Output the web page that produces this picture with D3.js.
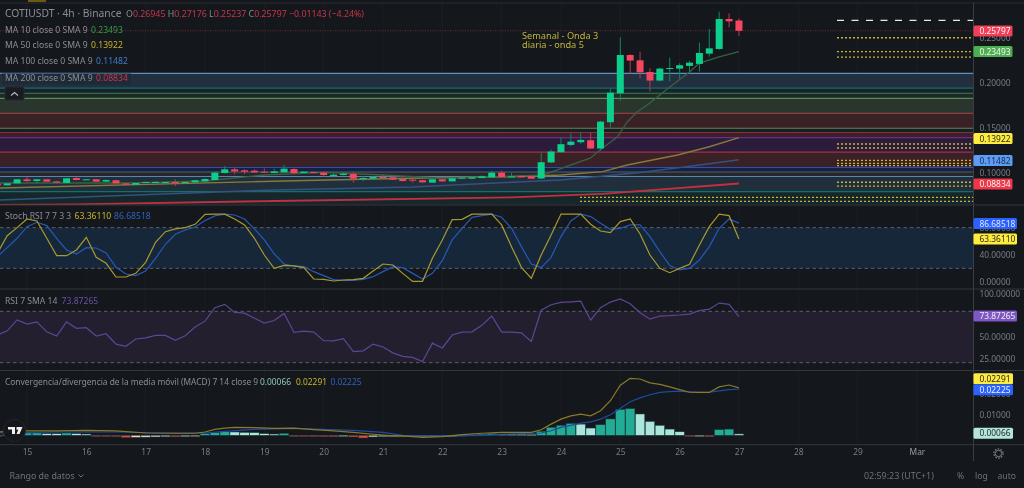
<!DOCTYPE html>
<html><head><meta charset="utf-8">
<style>html,body{margin:0;padding:0;background:#14171c;overflow:hidden}svg{display:block;filter:blur(.35px)}text{font-family:"Noto Sans",sans-serif}</style>
<script src="https://cdn.jsdelivr.net/npm/d3@7"></script></head><body><svg id="c" width="1024" height="488"></svg>
<script>
// candles: index 0 is the candle 3 bars before day 15 00:00; 6 bars per day
const opens=[.0881,.0863,.0885,.0930,.0911,.0930,.0907,.0889,.0944,.0922,.0930,.0904,.0919,.0885,.0870,.0893,.0893,.0893,.0900,.0889,.0896,.0907,.0922,.1000,.1041,.1030,.1026,.1015,.1000,.1007,.1044,.1000,.1011,.1004,.0967,.0978,.0989,.0937,.0937,.0956,.0952,.0933,.0926,.0919,.0893,.0930,.0907,.0941,.0937,.0944,.0952,.1004,.0952,.0967,.0963,.0939,.1117,.1231,.1312,.1342,.1364,.1272,.1564,.1886,.2311,.2252,.2123,.2027,.2160,.2160,.2190,.2212,.2326,.2378,.2711,.26945];
const highs=[.0885,.0887,.0935,.0959,.0933,.0933,.0911,.0945,.0952,.0933,.0933,.0930,.0922,.0889,.0891,.0904,.0911,.0904,.0930,.0904,.0922,.0941,.1011,.1078,.1063,.1041,.1041,.1052,.1048,.1092,.1052,.1018,.1015,.1015,.1004,.1011,.1011,.0967,.0963,.0981,.0956,.0952,.0952,.0926,.0933,.0935,.0945,.0955,.0956,.0974,.1026,.1026,.1000,.0978,.0978,.1227,.1261,.1394,.1442,.1453,.1453,.1579,.1938,.2508,.2318,.2348,.2163,.2171,.2282,.2219,.2245,.2448,.2600,.2792,.2774,.27176];
const lows=[.0860,.0860,.0883,.0900,.0885,.0902,.0891,.0889,.0920,.0920,.0902,.0902,.0885,.0868,.0868,.0891,.0891,.0891,.0856,.0887,.0896,.0907,.0919,.0996,.0985,.0989,.1004,.1004,.1000,.1004,.0989,.0996,.0996,.0959,.0963,.0974,.0893,.0904,.0933,.0941,.0922,.0904,.0893,.0893,.0893,.0900,.0905,.0935,.0933,.0941,.0948,.0944,.0948,.0948,.0933,.0930,.1110,.1225,.1294,.1324,.1268,.1250,.1505,.1801,.2108,.2049,.1908,.2020,.2019,.2049,.2126,.2126,.2293,.2370,.2619,.25237];
const closes=[.0863,.0885,.0930,.0911,.0930,.0904,.0893,.0941,.0922,.0930,.0904,.0922,.0885,.0870,.0889,.0900,.0900,.0900,.0893,.0900,.0919,.0933,.1004,.1041,.1018,.1015,.1007,.1004,.1018,.1048,.1000,.1015,.1000,.0978,.0981,.0993,.0937,.0944,.0956,.0944,.0926,.0911,.0919,.0896,.0930,.0907,.0941,.0948,.0952,.0963,.1004,.0956,.0963,.0952,.0937,.1120,.1239,.1320,.1349,.1368,.1272,.1571,.1893,.2311,.2249,.2119,.2027,.2160,.2167,.2197,.2226,.2334,.2385,.2711,.2685,.25797];
// moving averages, read at [candle offset from day 15 00:00, price]
const ma10Bars=[-3,10,18,24,30,36,42,48,52.2,57,58.2,59.7,60.7,61.7,63,65,67,68,70,72];
const ma10=[.0889,.0889,.0911,.0978,.1006,.0978,.0944,.0961,.0978,.1167,.1278,.1400,.1567,.1678,.1778,.1956,.2122,.2222,.2289,.23493];
const ma50Bars=[-3,27,40,49,54,58.2,60.7,65.8,69,72];
const ma50=[.0833,.0914,.0944,.0959,.0978,.1015,.1089,.1200,.1292,.13922];
const ma100Bars=[-3,25,39,49,54,61.8,66.7,72];
const ma100=[.0700,.0811,.0844,.0897,.0922,.1004,.1070,.11482];
const ma200Bars=[-3,5,25,49,58.2,72];
const ma200=[.0645,.0652,.0689,.0730,.0767,.08834];
const stochK=[42.2,68.2,80,92.8,89.9,64.3,38.7,38.7,47.1,65.8,36.3,27.4,7.2,7.2,12.6,28.9,58.4,74.1,78.1,80,84.9,99.7,100,100,92.8,84,64.3,39.7,20,24.4,23.5,21,4.3,3.8,1.3,2.8,3.3,5.3,16.1,26.4,24.9,12.6,.8,.8,34.8,61.8,91.8,92.3,100,100,100,84,52,21.5,5.3,39.7,69.2,100,100,100,85,75.1,72.6,88.9,92.8,70.7,39.7,20,13.6,20,25.9,54.5,81.5,100,97.7,63.3611];
const stochD=[37.3,50.5,64.3,81.5,87.9,83,64.3,47.1,41.2,50.5,50,42.7,21.5,11.7,9.2,16.1,34.8,55.5,70.2,76.6,81,90.4,97.3,100,98.7,92.8,78.1,61.9,41.2,26.4,23.5,22.5,15.1,9.2,3.3,2.3,2.3,3.8,7.7,15.1,22,21,12.6,4.3,12.6,31.4,61.9,79,95.3,97.8,100,95.3,79,52,26.4,21,36.3,66.8,89.9,100,96.3,86.4,77.6,79,84,84,66.8,44.6,24,17.6,20,32.3,52,79,92.8,86.68518];
const rsi=[52.3,57.2,70,65.1,67.7,56,51.1,67.7,60.2,60.9,51.1,53.8,41.7,39.1,47.7,48.9,51.9,51.9,46.2,51.5,61.7,68.5,84.3,88.1,78.7,77.9,71.9,66.2,69.2,77.5,55.3,56.8,55.7,45.8,45.5,48.1,33,33.8,41.7,38.3,31.5,27.4,26.2,21.3,42.8,37.2,52.3,55.7,56,63.6,74.5,55.7,55.7,54.9,44.7,81.3,87.7,90.4,91.1,91.9,69.6,84.3,90.8,94.5,88.9,78.3,70.8,74.5,74.9,75.7,76.8,80.9,82.5,89.6,88.1,73.87265];
const macdHist=[-.0005,.0003,.0006,.0011,.00112,.0008,.00078,.0011,.0008,.0006,-.00024,-.00032,-.00064,-.0011,-.001,-.0009,-.0008,-.0007,-.00075,-.00064,-.0005,.0008,.0013,.0017,.0016,.0014,.0013,.0008,.0006,.00095,-.00016,-.00032,-.0005,-.00064,-.0007,-.0005,-.0008,-.0013,-.0008,-.00064,-.00055,-.0005,-.00045,-.0004,-.0003,-.00025,-.00015,.00016,.0003,.0005,.0009,.0006,.00055,.0005,.0004,.0019,.0038,.0048,.0057,.0054,.0035,.0051,.0079,.0125,.0129,.0103,.0067,.0048,.0030,.0017,-.0004,-.0004,-.0007,.0027,.0030,.00066];
const macdBars=[-3,0,3,6,9,12,15,17,18,19,20,21,23,25,27,29,31,33,35,37,38,40,42,44,46,48,50,51,52,53,54,55,56,57,58,59,60,61,62,63,64,65,66,67,68,69,70,71,72];
const macdLine=[.0016,.0022,.0021,.0024,.0021,.0011,.001,.001,.0016,.0029,.0035,.0038,.0037,.0033,.0035,.0027,.0021,.0014,.0005,-.0003,-.0003,-.001,-.0006,.0003,.001,.0014,.0014,.0014,.0027,.0054,.0078,.0094,.0102,.0094,.0119,.0167,.0242,.0275,.0272,.0253,.0246,.0234,.0221,.0208,.0207,.0207,.0234,.0243,.02291];
const signalBars=[-3,3,9,15,18,20,23,27,30,33,36,38,40,44,46,48,50,52,53,54,55,56,57,58,59,60,61,62,63,64,65,66,67,68,69,70,71,72];
const signalLine=[.0011,.0016,.0016,.0011,.0011,.0019,.0029,.0033,.0029,.0024,.0014,0,-.0003,-.0002,0,.0005,.0008,.0011,.0022,.0038,.0048,.0059,.0065,.0078,.0099,.013,.0162,.0181,.0196,.0207,.0211,.0213,.021,.0208,.0208,.0215,.0221,.02225];
// time and price axis labels
const dayTicks=[15,16,17,18,19,20,21,22,23,24,25,26,27,28,29,30];
const dayLabels=["15","16","17","18","19","20","21","22","23","24","25","26","27","28","29","Mar"];
const priceTicks=[.25,.20,.15,.10];
const stochTicks=[80,40,0];
const rsiTicks=[100,50,25];
const macdTicks=[.02,.01];
// horizontal levels drawn on the price pane
const zonePrices=[[.2108,.1942,"#222f3e"],[.1942,.1886,"#15242a"],[.1886,.1830,"#1b2a25"],[.1830,.1664,"#2a352e"],[.1664,.1497,"#3a2126"],[.1497,.1450,"#1a1d22"],[.1450,.1394,"#3a2126"],[.1394,.1233,"#2c1c3c"],[.1233,.1061,"#3a2126"],[.1061,.1011,"#142044"],[.1011,.0961,"#24272d"],[.0961,.0792,"#212e3b"],[.0792,.0650,"#15272b"]];
const levelLines=[[.2108,"#5f8fc0"],[.1942,"#1c6a6a"],[.1886,"#467a4f"],[.1830,"#5d8a5d"],[.1664,"#a84a4e"],[.1497,"#5d8a5d"],[.1450,"#8a2c44"],[.1394,"#6e2a8c"],[.1233,"#a03048"],[.1061,"#2a50b0"],[.1011,"#5a5d63"],[.0961,"#5a86a8"],[.0792,"#12706c"]];
const shortDots=[.2503,.2349,.2287,.1322,.1278,.1141,.1108,.1081,.0897,.0855];
const longDots=[.0730,.0685];
const whiteLine=[.2696];

const svg=d3.select("#c"), W=973;
const BG="#14171c", AX="#7a7d86";
const x=d3.scaleLinear().domain([15-27/59.33,15+(973-27)/59.33]).range([0,W]);
const barX=i=>x(15+i/6);
const y=d3.scaleLinear().domain([.2,.1]).range([83,173]);
const ys=d3.scaleLinear().domain([100,0]).range([214.1,281.9]);
const yr=d3.scaleLinear().domain([50,25]).range([337,358.4]);
const ym=d3.scaleLinear().domain([0,.01]).range([435.3,414.6]);
svg.append("rect").attr("width",1024).attr("height",488).attr("fill",BG);
const defs=svg.append("defs");
[["m",3,205],["s",206,289],["r",290,370],["h",371,444]].forEach(([id,a,b])=>defs.append("clipPath").attr("id",id).append("rect").attr("x",0).attr("y",a).attr("width",W).attr("height",b-a));
// top clipped drawing tag
svg.append("rect").attr("x",28).attr("y",0).attr("width",18).attr("height",2).attr("fill","#6a5a12");
// grid
const grid=svg.append("g");
dayTicks.forEach(d=>grid.append("line").attr("x1",x(d)).attr("x2",x(d)).attr("y1",3).attr("y2",444).attr("stroke","#1b1e25"));
// zones
const m=svg.append("g").attr("clip-path","url(#m)");
m.selectAll(".z").data(zonePrices).join("rect").attr("x",0).attr("width",W).attr("y",d=>y(d[0])).attr("height",d=>y(d[1])-y(d[0])).attr("fill",d=>d[2]);
m.selectAll(".l").data(levelLines).join("line").attr("x1",0).attr("x2",W).attr("y1",d=>y(d[0])).attr("y2",d=>y(d[0])).attr("stroke",d=>d[1]).attr("stroke-width",1.2);
m.selectAll(".d1").data(shortDots).join("line").attr("x1",837).attr("x2",W).attr("y1",d=>y(d)).attr("y2",d=>y(d)).attr("stroke","#c9b53a").attr("stroke-width",1.3).attr("stroke-dasharray","2 2");
m.selectAll(".d2").data(longDots).join("line").attr("x1",580).attr("x2",W).attr("y1",d=>y(d)).attr("y2",d=>y(d)).attr("stroke","#c9b53a").attr("stroke-width",1.3).attr("stroke-dasharray","2 2");
m.selectAll(".w").data(whiteLine).join("line").attr("x1",837).attr("x2",W).attr("y1",d=>y(d)).attr("y2",d=>y(d)).attr("stroke","#e8e8e8").attr("stroke-width",1.3).attr("stroke-dasharray","7 7.5");
m.append("line").attr("x1",0).attr("x2",W).attr("y1",y(closes[75])).attr("y2",y(closes[75])).attr("stroke","#6b2c38").attr("stroke-dasharray","1 1.5");
// moving averages
const pLine=(bars,vals,sc)=>d3.line().x((d,i)=>barX(bars[i])).y(d=>sc(d))(vals);
[[ma200Bars,ma200,"#c2303f",1.8],[ma100Bars,ma100,"#33527f",1.5],[ma50Bars,ma50,"#857a3e",1.4],[ma10Bars,ma10,"#3b6043",1.3]].forEach(([b,v,c,w])=>m.append("path").attr("d",pLine(b,v,y)).attr("fill","none").attr("stroke",c).attr("stroke-width",w));
// candles
const G="#0ccf8b", R="#f4475f";
const candles=m.selectAll(".cd").data(d3.range(closes.length)).join("g");
candles.append("line").attr("x1",i=>barX(i-3)).attr("x2",i=>barX(i-3)).attr("y1",i=>y(highs[i])).attr("y2",i=>y(lows[i])).attr("stroke",i=>closes[i]>=opens[i]?"#0b8a60":"#b83a50").attr("stroke-width",1);
candles.append("rect").attr("x",i=>barX(i-3)-3.5).attr("width",7).attr("y",i=>y(Math.max(opens[i],closes[i]))).attr("height",i=>Math.max(1,Math.abs(y(opens[i])-y(closes[i])))).attr("fill",i=>closes[i]>=opens[i]?G:R);
// note
svg.append("text").attr("x",522).attr("y",39).attr("font-size",9.2).attr("fill","#c4b53a").text("Semanal - Onda 3");
svg.append("text").attr("x",522).attr("y",48).attr("font-size",9.2).attr("fill","#c4b53a").text("diaria - onda 5");
// stoch pane
const s=svg.append("g").attr("clip-path","url(#s)");
s.append("rect").attr("x",0).attr("width",W).attr("y",ys(80)).attr("height",ys(20)-ys(80)).attr("fill","#16273a");
[80,20].forEach(v=>s.append("line").attr("x1",0).attr("x2",W).attr("y1",ys(v)).attr("y2",ys(v)).attr("stroke","#5c6068").attr("stroke-dasharray","3.5 3"));
const idxLine=sc=>d3.line().x((d,i)=>barX(i-3)).y(d=>sc(d));
s.append("path").attr("d",idxLine(ys)(stochD)).attr("fill","none").attr("stroke","#2659b8").attr("stroke-width",1.2);
s.append("path").attr("d",idxLine(ys)(stochK)).attr("fill","none").attr("stroke","#a89a30").attr("stroke-width",1.2);
// rsi pane
const r=svg.append("g").attr("clip-path","url(#r)");
r.append("rect").attr("x",0).attr("width",W).attr("y",yr(80)).attr("height",yr(20)-yr(80)).attr("fill","#231f2e");
[80,20].forEach(v=>r.append("line").attr("x1",0).attr("x2",W).attr("y1",yr(v)).attr("y2",yr(v)).attr("stroke","#5c6068").attr("stroke-dasharray","3.5 3"));
r.append("path").attr("d",idxLine(yr)(rsi)).attr("fill","none").attr("stroke","#5f4596").attr("stroke-width",1.2);
// macd pane
const h=svg.append("g").attr("clip-path","url(#h)");
const barColor=i=>{const v=macdHist[i],p=i?macdHist[i-1]:0;return v>=0?(v>=p?"#22ab95":"#ace5dc"):(v<p?"#e8483f":"#f7d6c4");};
h.selectAll(".hb").data(d3.range(macdHist.length)).join("rect").attr("x",i=>barX(i-3)-4.7).attr("width",9.4).attr("y",i=>Math.min(ym(0),ym(macdHist[i]))).attr("height",i=>Math.max(1.2,Math.abs(ym(macdHist[i])-ym(0)))).attr("fill",barColor).attr("stroke","#1a3a3a").attr("stroke-width",.5);
h.append("path").attr("d",pLine(signalBars,signalLine,ym)).attr("fill","none").attr("stroke","#1f4aa0").attr("stroke-width",1.2);
h.append("path").attr("d",pLine(macdBars,macdLine,ym)).attr("fill","none").attr("stroke","#8a7a2a").attr("stroke-width",1.2);
// pane separators
[[3,"#2a2d33"],[205,"#34373d"],[289,"#34373d"],[370.5,"#34373d"],[444.7,"#34373d"]].forEach(([yy,c])=>svg.append("line").attr("x1",0).attr("x2",1024).attr("y1",yy).attr("y2",yy).attr("stroke",c));
svg.append("line").attr("x1",973.5).attr("x2",973.5).attr("y1",3).attr("y2",461).attr("stroke","#3a3d44");
// axes
const right=(sc,vals)=>d3.axisRight(sc).tickValues(vals).tickSize(0).tickPadding(0).tickFormat(d=>d.toFixed(5));
const styleAxis=g=>{g.select(".domain").remove();g.selectAll("text").attr("font-size",8.4).attr("fill",AX).attr("font-family",'"Noto Sans",sans-serif');};
[[y,priceTicks],[ys,stochTicks],[yr,rsiTicks],[ym,macdTicks]].forEach(([sc,v])=>svg.append("g").attr("transform","translate(979.5,0)").call(right(sc,v)).call(styleAxis));
const ax=svg.append("g").attr("transform","translate(0,449)").call(d3.axisBottom(x).tickValues(dayTicks).tickSize(0).tickPadding(0).tickFormat((d,i)=>dayLabels[i])).call(styleAxis);
ax.selectAll("text").attr("fill",(d,i)=>dayLabels[i]=="Mar"?"#9a9da6":AX);
// value tags
const tags=[[31,"0.25797","#f23f58","#f5f5f5",39],[51.6,"0.23493","#4caf50","#f5f5f5",39],[138.5,"0.13922","#ffeb3b","#26282c",39],[160.5,"0.11482","#5b9cf6","#1d2a40",39],[184,"0.08834","#f23649","#f5f5f5",39],[223.5,"86.68518","#2962ff","#dfe6ff",43.5],[239,"63.36110","#ffeb3b","#26282c",43.5],[316,"73.87265","#7e57c2","#f0ecf8",43.5],[378.7,"0.02291","#ffeb3b","#26282c",39.5],[389.7,"0.02225","#2962ff","#f0f3ff",39.5],[433.3,"0.00066","#b2e6dc","#26282c",39.5]];
tags.forEach(([yy,t,c,tc,w])=>{
 svg.append("rect").attr("x",973.5).attr("y",yy-5.5).attr("width",w).attr("height",11).attr("rx",1.5).attr("fill",c);
 svg.append("text").attr("x",979.5).attr("y",yy+3).attr("font-size",8.4).attr("fill",tc).text(t);
});
// legends
const legend=(xx,yy,parts,size)=>{const t=svg.append("text").attr("x",xx).attr("y",yy).attr("font-size",size);parts.forEach(([s,c])=>t.append("tspan").attr("fill",c).text(s));};
const T="#8a8d96",RD="#c9354a";
svg.append("rect").attr("x",2).attr("y",73.5).attr("width",129).attr("height",11).attr("fill","#1f2a37");
legend(5,17,[["COTIUSDT · 4h · Binance",T]],10.3);
legend(126,17,[["O",T],["0.26945",RD],[" H",T],["0.27176",RD],[" L",T],["0.25237",RD],[" C",T],["0.25797",RD],[" −0.01143 (−4.24%)",RD]],8.8);
legend(5,33,[["MA 10 close 0 SMA 9",T]],8.6); legend(91,33,[["0.23493","#3a9a48"]],8.6);
legend(5,48,[["MA 50 close 0 SMA 9",T]],8.6); legend(91,48,[["0.13922","#c9b52a"]],8.6);
legend(5,64,[["MA 100 close 0 SMA 9",T]],8.6); legend(96,64,[["0.11482","#3f7fd0"]],8.6);
legend(5,81,[["MA 200 close 0 SMA 9",T]],8.6); legend(96,81,[["0.08834",RD]],8.6);
legend(5,219,[["Stoch RSI 7 7 3 3",T]],8.6); legend(74.5,219,[["63.36110","#c9b52a"]],8.6); legend(114,219,[["86.68518","#2f62c0"]],8.6);
legend(5,304,[["RSI 7 SMA 14",T]],8.6); legend(61.5,304,[["73.87265","#6d4fa8"]],8.6);
legend(5,385,[["Convergencia/divergencia de la media móvil (MACD) 7 14 close 9",T]],8.4); legend(260,385,[["0.00066","#8fc7bd"]],8.4); legend(296,385,[["0.02291","#c9b52a"]],8.4); legend(330.5,385,[["0.02225","#2f62c0"]],8.4);
// collapse button
svg.append("rect").attr("x",5).attr("y",87).attr("width",19).attr("height",13).attr("rx",1.5).attr("fill","#181b20").attr("stroke","#262a30");
svg.append("path").attr("d","M11 95.5 L14.5 92.5 L18 95.5").attr("fill","none").attr("stroke","#b8bbc2").attr("stroke-width",1.1);
// logo
svg.append("circle").attr("cx",14.5).attr("cy",430.5).attr("r",11).attr("fill","#14171c").attr("stroke","#23262c");
svg.append("path").attr("d","M8 427h7v7h-3v-4.5h-4zM16.5 427h6l-3 7h-3l1.8-4.2h-1.8z").attr("fill","#f0f0f0");
// footer
svg.append("text").attr("x",9.5).attr("y",479).attr("font-size",8.9).attr("fill","#6f727b").text("Rango de datos");
svg.append("path").attr("d","M78.5 474.5l2.5 2.5 2.5-2.5").attr("fill","none").attr("stroke","#6f727b");
svg.append("text").attr("x",864).attr("y",479).attr("font-size",8.9).attr("fill","#6f727b").text("02:59:23 (UTC+1)");
svg.append("text").attr("x",957).attr("y",479).attr("font-size",8.6).attr("fill","#6f727b").text("%");
svg.append("text").attr("x",975).attr("y",479).attr("font-size",8.6).attr("fill","#6f727b").text("log");
svg.append("text").attr("x",997.5).attr("y",479).attr("font-size",8.6).attr("fill","#6f727b").text("auto");
// gear
svg.append("circle").attr("cx",998.5).attr("cy",453.5).attr("r",3.2).attr("fill","none").attr("stroke","#7a7d86").attr("stroke-width",1);
svg.append("circle").attr("cx",998.5).attr("cy",453.5).attr("r",4.6).attr("fill","none").attr("stroke","#7a7d86").attr("stroke-width",1.2).attr("stroke-dasharray","1.6 1.3");
</script></body></html>
